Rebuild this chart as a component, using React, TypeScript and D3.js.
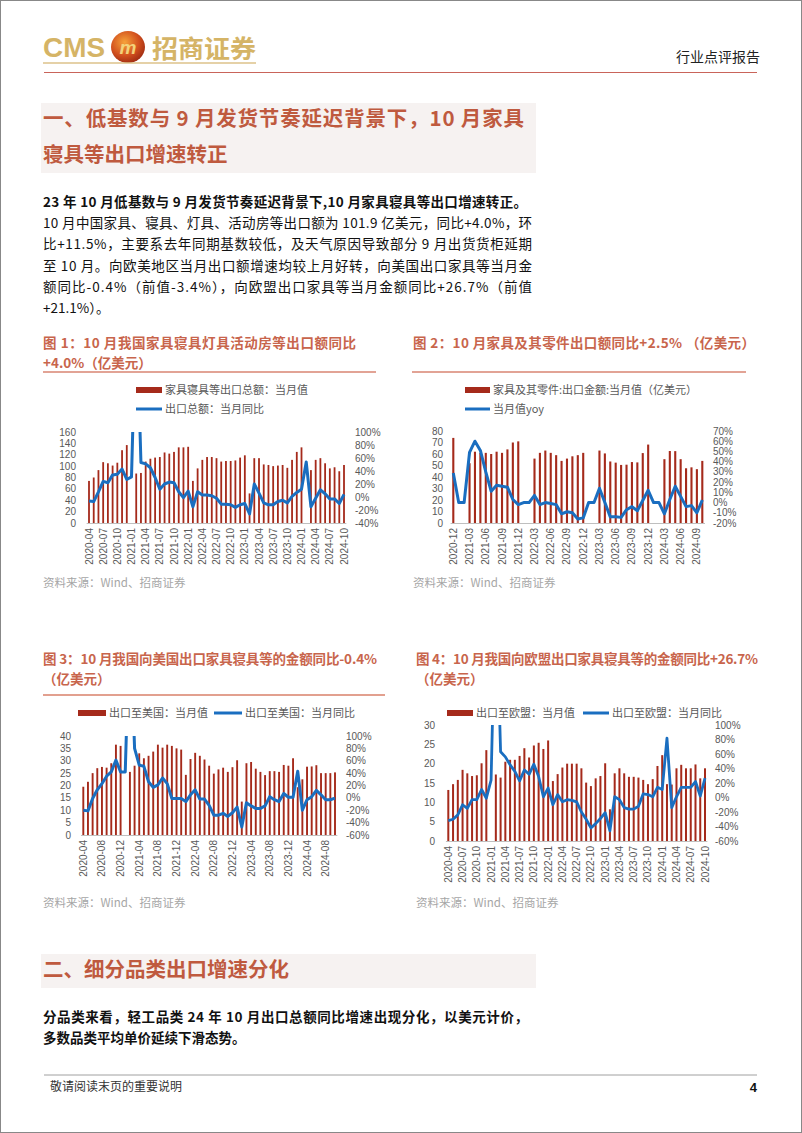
import React from 'react'
import * as d3 from 'd3'

// ---- data ----
// 图1: 家具寝具等出口总额 (亿美元) / 同比 (%), 2020-04 .. 2024-10
const c1Start = '2020-04'
const c1Bars = [74, 80, 93, 107, 105, 101, 106, 128, 137, null, 87, 88, 108, 113, 115, 116, 124, 122, 125, 133, 133,
  134, 74, 96, 111, 116, 116, 114, 108, 109, 109, 110, 115, 119, 52, 114, 114, 103, 102, 100, 101, 102, 97, 111, 125,
  133, null, 93, 111, 114, 105, 96, 98, 91, 102]
const c1Yoy = [-6, -7, 8, 24, 22, 34, 35, 43, 27, 31, 300, 53, 51, 45, 30, 12, 20, 23, 22, 8, -1, 9, -15, 8, 3, 3, 2, -2,
  -11, -11, -12, -16, -12, -10, -26, 20, 6, -9, -12, -12, -7, -5, -9, 1, 7, 12, 54, -15, -2, 11, 5, -3, -3, -10, 4]

// 图2: 家具及其零件出口金额 (亿美元) / yoy (%), 2020-12 .. 2024-10
const c2Start = '2020-12'
const c2Bars = [74, null, null, 52, 62, 61, 61, 60, 62, 61, 64, 70, 71, null, null, 56, 61, 63, 61, 59, 54, 56, 58, 59, 61,
  null, null, 63, 60.5, 53.5, 52.5, 50.5, 50.7, 53, 52.7, 60.8, 68.2, null, null, 55.5, 62.6, 62.5, 55.5, 47.6, 48.4, 46.8, 54]
const c2Yoy = [29, 0, 0, 49, 60, 51, 30, 11, 17, 16, 15, 3, -2, 0, 0, 7, -2, 0, -1, -2, -11, -9, -10, -16, -15, 0, 0, 14, 0,
  -14, -14, -14.5, -7, -4, -8, 2, 12, 0, 0, -11, 3, 16, 6, -4, -3, -10, 2.5]

// 图3: 出口至美国 (亿美元) / 同比 (%), 2020-04 .. 2024-10
const c3Start = '2020-04'
const c3Bars = [19.5, 21.5, 25, 27, 27.5, 27.2, 29, 36.5, 36, null, 25.5, 28, 33, 31, 32, 33.7, 36.5, 35.3, 36.5, 36, 35,
  34.5, 24.3, 30.7, 33.2, 32, 30.5, 28, 24.8, 26.5, 27.2, 25.5, 27.4, 30.2, 13.5, 29, 29.5, 26.8, 25.5, 24.2, 25.8, 25.8,
  25.5, 28.3, 28, 31, 19.3, 22.5, 27.6, 27.7, 28.2, 25, 25, 25, 25.3]
const c3Yoy = [-20, -21, -1, 13, 23, 35, 42, 61, 42, 42, 300, 80, 53, 51, 26, 17, 21, 32, 23, -1, -1, -1, -6, 5, 13, -2, -2,
  -12, -28, -28, -25, -30, -24, -15, -47, -8, -13, -17, -17, -13, 2, -3, -6, 7, 1, 1, 43, -20, -3, 2, 12, 5, -3, -3, -0.4]

// 图4: 出口至欧盟 (亿美元) / 同比 (%), 2020-04 .. 2024-10
const c4Start = '2020-04'
const c4Bars = [13.2, 14.7, 15.8, 18.4, 17.5, 16.8, 17, 20.1, 23.5, null, 17.2, 16.4, 20.5, 21, 21, 22, 24, 21.6, 24.7, 25.4,
  23.8, 26, 15.5, 17.3, 19, 20, 20, 20, 18.8, 15.1, 14.2, 16.2, 16.8, 20.1, 8.2, 17.5, 18.8, 17.5, 16.6, 16.6, 16.4, 15.8,
  14.7, 16, 19.4, 22.2, 14.7, 14.6, 18.8, 19.7, 18.8, 18.8, 19.8, 16.2, 18.8]
const c4Yoy = [-32, -30, -24, -10, -15, -3, -3, 11, -1, 24, 300, 63, 56, 45, 36, 23, 38, 32, 46, 29, 1, 13, -10, 4, -6, -3,
  -4, -6, -20, -30, -42, -36, -29, -21, -46, 1, -3, -14, -16, -16, -12, 5, 4, 1, 14, 11, 82, -14, 1, 14, 14, 14, 22, 2, 26.7]

const monthList = (start: string, n: number) => {
  const [y0, m0] = start.split('-').map(Number)
  return d3.range(n).map(k => {
    const t = (m0 - 1) + k
    const y = y0 + Math.floor(t / 12)
    const m = (t % 12) + 1
    return `${y}-${String(m).padStart(2, '0')}`
  })
}

const CN = '"Noto Sans CJK SC", "Noto Sans", sans-serif'
const NUM = '"Liberation Sans", Arial, sans-serif'
const BAR = '#a52a1b'
const LINE = '#1a6ec0'
const AXIS_TXT = '#595959'

type Legend = { barText: string; lineText: string; barX: number; barY: number; lineX: number; lineY: number; swatch: number }

type ComboProps = {
  id: string
  months: string[]
  bars: (number | null)[]
  yoy: number[]
  x0: number; x1: number
  yBase: number; yTop: number
  left: [number, number]; leftStep: number; leftX: number
  right: [number, number]; rightStep: number; rightX: number
  every: number
  labelY: number
  barW: number
  lineW: number
  legend: Legend
}

function Combo(p: ComboProps) {
  const x = d3.scalePoint<string>().domain(p.months).range([p.x0, p.x1])
  const step = x.step()
  const yL = d3.scaleLinear().domain(p.left).range([p.yBase, p.yTop])
  const yR = d3.scaleLinear().domain(p.right).range([p.yBase, p.yTop])
  const lTicks = d3.range(p.left[0], p.left[1] + 0.001, p.leftStep)
  const rTicks = d3.range(p.right[0], p.right[1] + 0.001, p.rightStep)
  const line = d3.line<number>()
    .x((_, i) => x(p.months[i]) as number)
    .y(d => yR(d))
  const lg = p.legend
  return (
    <g>
      <defs>
        <clipPath id={p.id}>
          <rect x={p.x0 - 10} y={p.yTop} width={p.x1 - p.x0 + 20} height={p.yBase - p.yTop + 20} />
        </clipPath>
      </defs>
      {/* legend */}
      <rect x={lg.barX} y={lg.barY - 3} width={lg.swatch} height={6} fill={BAR} />
      <text x={lg.barX + lg.swatch + 3} y={lg.barY + 4} fontFamily={CN} fontSize={11} fill={AXIS_TXT}>{lg.barText}</text>
      <line x1={lg.lineX} x2={lg.lineX + lg.swatch} y1={lg.lineY} y2={lg.lineY} stroke={LINE} strokeWidth={3} />
      <text x={lg.lineX + lg.swatch + 3} y={lg.lineY + 4} fontFamily={CN} fontSize={11} fill={AXIS_TXT}>{lg.lineText}</text>

      {/* axes labels */}
      {lTicks.map(t => (
        <text key={'l' + t} x={p.leftX} y={yL(t) + 3.5} textAnchor="end" fontFamily={NUM} fontSize={10} fill={AXIS_TXT}>{t}</text>
      ))}
      {rTicks.map(t => (
        <text key={'r' + t} x={p.rightX} y={yR(t) + 3.5} fontFamily={NUM} fontSize={10} fill={AXIS_TXT}>{t + '%'}</text>
      ))}

      {/* bars */}
      {p.bars.map((v, i) => v == null ? null : (
        <rect key={'b' + i} x={(x(p.months[i]) as number) - p.barW / 2} y={yL(v)} width={p.barW}
          height={p.yBase - yL(v)} fill={BAR} />
      ))}
      <line x1={p.x0 - step / 2} x2={p.x1 + step / 2} y1={p.yBase + 0.5} y2={p.yBase + 0.5} stroke="#bfbfbf" strokeWidth={1} />

      {/* yoy line */}
      <path d={line(p.yoy) || ''} fill="none" stroke={LINE} strokeWidth={p.lineW} strokeLinejoin="round"
        clipPath={`url(#${p.id})`} />

      {/* x labels */}
      {p.months.map((m, i) => i % p.every !== 0 ? null : (
        <text key={'x' + m} transform={`translate(${(x(m) as number) + 3.5},${p.labelY}) rotate(-90)`} textAnchor="end"
          fontFamily={NUM} fontSize={10} fill={AXIS_TXT}>{m}</text>
      ))}
    </g>
  )
}

const HEAD = '#bf5a3f'
const FIG = '#c8654c'

function Body({ x, y, text, w, bold }: { x: number; y: number; text: string; w?: number; bold?: boolean }) {
  return (
    <text x={x} y={y} fontFamily={CN} fontSize={13.5} fontWeight={bold ? 700 : 400} fill="#111"
      textLength={w} lengthAdjust={w ? 'spacing' : undefined}>{text}</text>
  )
}

function FigTitle({ x, y, text, w }: { x: number; y: number; text: string; w?: number }) {
  return (
    <text x={x} y={y} fontFamily={CN} fontSize={13.5} fontWeight={700} fill={FIG}
      textLength={w} lengthAdjust={w ? 'spacing' : undefined}>{text}</text>
  )
}

export default function App() {
  const m1 = monthList(c1Start, c1Bars.length)
  const m2 = monthList(c2Start, c2Bars.length)
  const m3 = monthList(c3Start, c3Bars.length)
  const m4 = monthList(c4Start, c4Bars.length)
  return (
    <div style={{ position: 'absolute', left: 0, top: 0 }}>
      <svg width={802} height={1133} style={{ display: 'block', background: '#fff' }}>
        <defs>
          <radialGradient id="logoG" cx="40%" cy="35%" r="70%">
            <stop offset="0%" stopColor="#f6a23a" />
            <stop offset="60%" stopColor="#d2501e" />
            <stop offset="100%" stopColor="#9c2a12" />
          </radialGradient>
        </defs>
        <rect x={0.5} y={0.5} width={801} height={1132} fill="none" stroke="#888" />

        {/* header */}
        <text x={43} y={57} fontFamily={NUM} fontWeight={700} fontSize={28} fill="#d5b466" textLength={62}
          lengthAdjust="spacingAndGlyphs">CMS</text>
        <ellipse cx={128} cy={47} rx={17} ry={16} fill="url(#logoG)" />
        <text x={128} y={54} textAnchor="middle" fontFamily={NUM} fontWeight={700} fontStyle="italic" fontSize={19}
          fill="#f3d27a">m</text>
        <text x={152} y={58} fontFamily={CN} fontWeight={700} fontSize={25} fill="#d5b466" textLength={104}
          lengthAdjust="spacingAndGlyphs">招商证券</text>
        <line x1={43} x2={256} y1={63} y2={63} stroke="#dcc28a" strokeWidth={1.5} />
        <text x={760} y={62} textAnchor="end" fontFamily={CN} fontSize={14} fill="#222">行业点评报告</text>
        <line x1={44} x2={757} y1={72.5} y2={72.5} stroke="#c9645a" strokeWidth={1} />

        {/* section 1 heading */}
        <rect x={41} y={103} width={495} height={70} fill="#f6f2f1" />
        <text x={43} y={126} fontFamily={CN} fontSize={20.5} fontWeight={700} fill={HEAD} textLength={481}
          lengthAdjust="spacing">一、低基数与 9 月发货节奏延迟背景下，10 月家具</text>
        <text x={43} y={162} fontFamily={CN} fontSize={20.5} fontWeight={700} fill={HEAD}>寝具等出口增速转正</text>

        {/* paragraph */}
        <Body x={43} y={207} bold w={484} text="23 年 10 月低基数与 9 月发货节奏延迟背景下,10 月家具寝具等出口增速转正。" />
        <Body x={43} y={228} w={489} text="10 月中国家具、寝具、灯具、活动房等出口额为 101.9 亿美元，同比+4.0%，环" />
        <Body x={43} y={249} w={489} text="比+11.5%，主要系去年同期基数较低，及天气原因导致部分 9 月出货货柜延期" />
        <Body x={43} y={271} w={489} text="至 10 月。向欧美地区当月出口额增速均较上月好转，向美国出口家具等当月金" />
        <Body x={43} y={292} w={489} text="额同比-0.4%（前值-3.4%），向欧盟出口家具等当月金额同比+26.7%（前值" />
        <Body x={43} y={313} text="+21.1%）。" />

        {/* figure titles 1 & 2 */}
        <FigTitle x={43} y={348} w={313} text="图 1：10 月我国家具寝具灯具活动房等出口额同比" />
        <FigTitle x={43} y={368} text="+4.0%（亿美元）" />
        <FigTitle x={413} y={348} w={342} text="图 2：10 月家具及其零件出口额同比+2.5% （亿美元）" />
        <line x1={43} x2={376} y1={372} y2={372} stroke="#d98572" strokeWidth={1.5} />
        <line x1={412} x2={746} y1={372} y2={372} stroke="#d98572" strokeWidth={1.5} />

        <Combo id="c1" months={m1} bars={c1Bars} yoy={c1Yoy} x0={89} x1={344} yBase={523} yTop={432}
          left={[0, 160]} leftStep={20} leftX={76} right={[-40, 100]} rightStep={20} rightX={355}
          every={3} labelY={528} barW={1.8} lineW={3}
          legend={{ barText: '家具寝具等出口总额：当月值', lineText: '出口总额：当月同比', barX: 136, barY: 390, lineX: 136, lineY: 409, swatch: 26 }} />
        <Combo id="c2" months={m2} bars={c2Bars} yoy={c2Yoy} x0={453.3} x1={702.3} yBase={523} yTop={431}
          left={[0, 80]} leftStep={10} leftX={443} right={[-20, 70]} rightStep={10} rightX={713}
          every={3} labelY={528} barW={2.1} lineW={3}
          legend={{ barText: '家具及其零件:出口金额:当月值（亿美元）', lineText: '当月值yoy', barX: 465, barY: 390, lineX: 465, lineY: 409, swatch: 25 }} />

        <text x={43} y={587} fontFamily={CN} fontSize={11.5} fill="#a6a6a6">资料来源：Wind、招商证券</text>
        <text x={413} y={587} fontFamily={CN} fontSize={11.5} fill="#a6a6a6">资料来源：Wind、招商证券</text>

        {/* figure titles 3 & 4 */}
        <FigTitle x={43} y={664} w={334} text="图 3：10 月我国向美国出口家具寝具等的金额同比-0.4%" />
        <FigTitle x={43} y={684} text="（亿美元）" />
        <FigTitle x={416} y={664} w={342} text="图 4：10 月我国向欧盟出口家具寝具等的金额同比+26.7%" />
        <FigTitle x={416} y={684} text="（亿美元）" />
        <line x1={43} x2={385} y1={695} y2={695} stroke="#e2a08f" strokeWidth={2} />

        <Combo id="c3" months={m3} bars={c3Bars} yoy={c3Yoy} x0={83.3} x1={335} yBase={835} yTop={736}
          left={[0, 40]} leftStep={5} leftX={71} right={[-60, 100]} rightStep={20} rightX={346}
          every={4} labelY={840} barW={1.9} lineW={3}
          legend={{ barText: '出口至美国：当月值', lineText: '出口至美国：当月同比', barX: 78, barY: 713, lineX: 214, lineY: 713, swatch: 28 }} />
        <Combo id="c4" months={m4} bars={c4Bars} yoy={c4Yoy} x0={448.3} x1={705} yBase={841} yTop={725}
          left={[0, 30]} leftStep={5} leftX={435} right={[-60, 100]} rightStep={20} rightX={715}
          every={3} labelY={846} barW={2} lineW={2.8}
          legend={{ barText: '出口至欧盟：当月值', lineText: '出口至欧盟：当月同比', barX: 447, barY: 713, lineX: 583, lineY: 713, swatch: 26 }} />

        <text x={43} y={907} fontFamily={CN} fontSize={11.5} fill="#a6a6a6">资料来源：Wind、招商证券</text>
        <text x={416} y={907} fontFamily={CN} fontSize={11.5} fill="#a6a6a6">资料来源：Wind、招商证券</text>

        {/* section 2 */}
        <rect x={41} y={954} width={495} height={34} fill="#f6f2f1" />
        <text x={43} y={977} fontFamily={CN} fontSize={20.5} fontWeight={700} fill={HEAD}>二、细分品类出口增速分化</text>
        <Body x={43} y={1022} bold w={485} text="分品类来看，轻工品类 24 年 10 月出口总额同比增速出现分化，以美元计价，" />
        <Body x={43} y={1043} bold text="多数品类平均单价延续下滑态势。" />

        {/* footer */}
        <line x1={44} x2={757} y1={1075} y2={1075} stroke="#a0a0a0" strokeWidth={1} />
        <text x={50} y={1091} fontFamily={CN} fontSize={12} fill="#333">敬请阅读末页的重要说明</text>
        <text x={757} y={1092} textAnchor="end" fontFamily={NUM} fontWeight={700} fontSize={13} fill="#111">4</text>
      </svg>
    </div>
  )
}
